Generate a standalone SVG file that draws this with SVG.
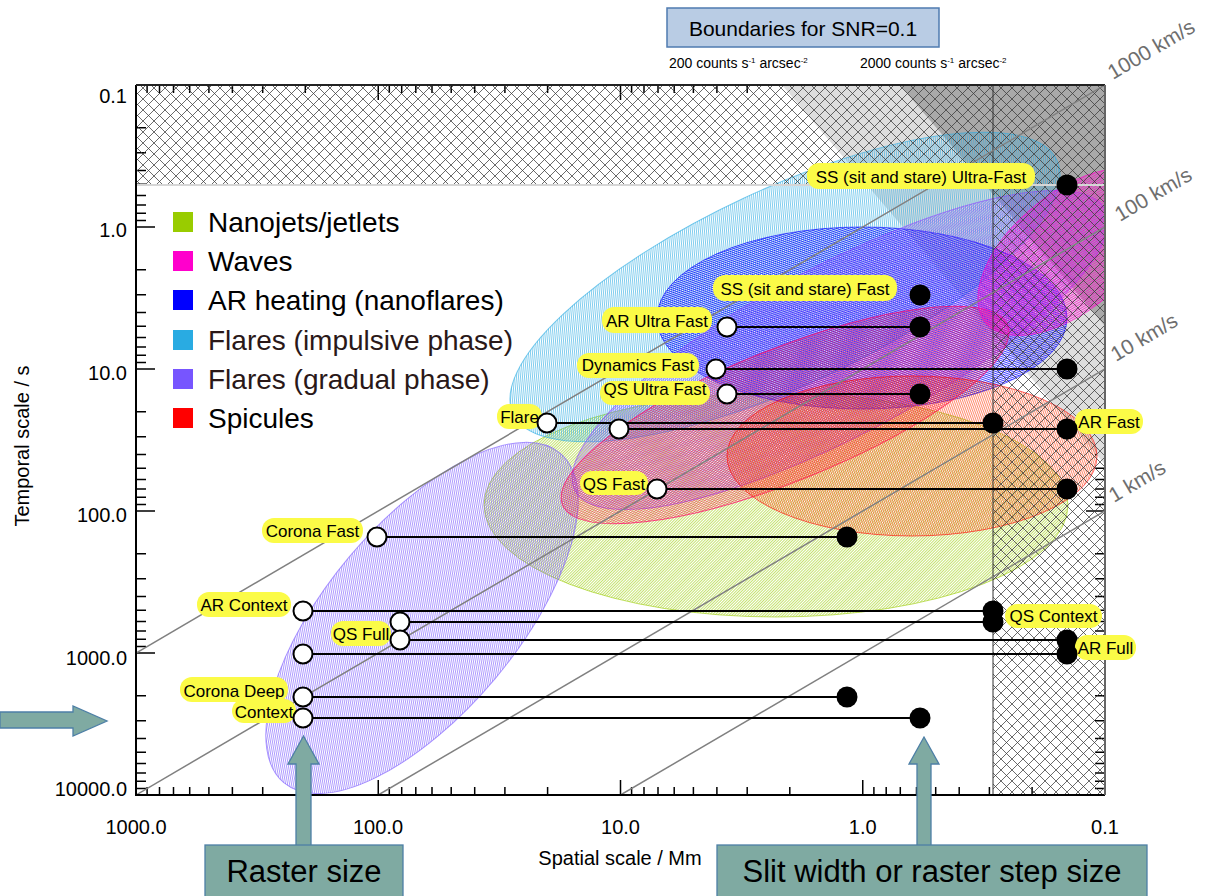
<svg xmlns="http://www.w3.org/2000/svg" width="1207" height="896" viewBox="0 0 1207 896">
<style>
text{font-family:"Liberation Sans",Arial,sans-serif;fill:#000}
.ax{font-size:20px}
.lg{font-size:28px}
.lg2{font-size:28px;fill:#2a1818}
.lab{font-size:17px;text-anchor:middle}
.spd{font-size:21px;fill:#6e6e6e}
.sub{font-size:14px}
.pill{fill:#fbfb47}
.wc{fill:#fff;stroke:#000;stroke-width:2}
.bc{fill:#000}
.dl{stroke:#000;stroke-width:2.2;fill:none}
.ell{stroke-width:1}
.arrow{fill:#7faaa2;stroke:#4d7fa6;stroke-width:1.3}
.big{font-size:31px;text-anchor:middle}
</style>
<defs>
<clipPath id="plot"><rect x="136" y="85" width="969" height="710"/></clipPath>
<pattern id="xh" width="11" height="11" patternUnits="userSpaceOnUse"><path d="M0,0L11,11M11,0L0,11" stroke="#3a3a3a" stroke-width="0.75" fill="none"/></pattern>
<pattern id="hGreen" width="2" height="2" patternUnits="userSpaceOnUse" patternTransform="rotate(45)"><rect width="0.7" height="2" fill="#99cc00" fill-opacity="0.8"/></pattern>
<pattern id="hCyan" width="2" height="2" patternUnits="userSpaceOnUse" patternTransform="rotate(20)"><rect width="0.7" height="2" fill="#29abe2" fill-opacity="0.85"/></pattern>
<pattern id="hPurple" width="2" height="2" patternUnits="userSpaceOnUse" patternTransform="rotate(60)"><rect width="0.7" height="2" fill="#7755ff" fill-opacity="0.85"/></pattern>
<pattern id="hPurple2" width="2" height="2" patternUnits="userSpaceOnUse" patternTransform="rotate(75)"><rect width="0.7" height="2" fill="#8a44ff" fill-opacity="0.8"/></pattern>
<pattern id="hBlue" width="2" height="2" patternUnits="userSpaceOnUse" patternTransform="rotate(110)"><rect width="0.8" height="2" fill="#0000ff" fill-opacity="0.95"/></pattern>
<pattern id="hRed" width="2" height="2" patternUnits="userSpaceOnUse" patternTransform="rotate(135)"><rect width="0.7" height="2" fill="#ff0040" fill-opacity="0.75"/></pattern>
<pattern id="hRed2" width="2" height="2" patternUnits="userSpaceOnUse" patternTransform="rotate(160)"><rect width="0.7" height="2" fill="#ff3000" fill-opacity="0.8"/></pattern>
<pattern id="hMag" width="2" height="2" patternUnits="userSpaceOnUse" patternTransform="rotate(100)"><rect width="0.8" height="2" fill="#ff00cc" fill-opacity="0.95"/></pattern>
</defs>
<rect width="1207" height="896" fill="#fff"/>

<g id="ticks" stroke="#000" stroke-width="1.5" fill="none">
<path d="M136 227h19M136 369h19M136 511h19M136 653h19M136 127.7h10M136 152.8h10M136 170.5h10M136 184.3h10M136 195.5h10M136 205h10M136 213.2h10M136 220.5h10M136 269.7h10M136 294.8h10M136 312.5h10M136 326.3h10M136 337.5h10M136 347h10M136 355.2h10M136 362.5h10M136 411.7h10M136 436.8h10M136 454.5h10M136 468.3h10M136 479.5h10M136 489h10M136 497.2h10M136 504.5h10M136 553.7h10M136 578.8h10M136 596.5h10M136 610.3h10M136 621.5h10M136 631h10M136 639.2h10M136 646.5h10M136 695.7h10M136 720.8h10M136 738.5h10M136 752.3h10M136 763.5h10M136 773h10M136 781.2h10M136 788.5h10"/>
<path d="M1105 227h-19M1105 369h-19M1105 511h-19M1105 653h-19M1105 127.7h-10M1105 152.8h-10M1105 170.5h-10M1105 184.3h-10M1105 195.5h-10M1105 205h-10M1105 213.2h-10M1105 220.5h-10M1105 269.7h-10M1105 294.8h-10M1105 312.5h-10M1105 326.3h-10M1105 337.5h-10M1105 347h-10M1105 355.2h-10M1105 362.5h-10M1105 411.7h-10M1105 436.8h-10M1105 454.5h-10M1105 468.3h-10M1105 479.5h-10M1105 489h-10M1105 497.2h-10M1105 504.5h-10M1105 553.7h-10M1105 578.8h-10M1105 596.5h-10M1105 610.3h-10M1105 621.5h-10M1105 631h-10M1105 639.2h-10M1105 646.5h-10M1105 695.7h-10M1105 720.8h-10M1105 738.5h-10M1105 752.3h-10M1105 763.5h-10M1105 773h-10M1105 781.2h-10M1105 788.5h-10"/>
<path d="M378.25 795v-15M620.5 795v-15M862.75 795v-15M147.1 795v-8M159.5 795v-8M173.5 795v-8M189.7 795v-8M208.9 795v-8M232.4 795v-8M262.7 795v-8M305.3 795v-8M389.3 795v-8M401.7 795v-8M415.8 795v-8M432 795v-8M451.2 795v-8M474.7 795v-8M504.9 795v-8M547.6 795v-8M631.6 795v-8M644 795v-8M658 795v-8M674.2 795v-8M693.4 795v-8M716.9 795v-8M747.2 795v-8M789.8 795v-8M873.9 795v-8M886.2 795v-8M900.3 795v-8M916.5 795v-8M935.7 795v-8M959.2 795v-8M989.4 795v-8M1032.1 795v-8"/>
<path d="M378.25 85v15M620.5 85v15M862.75 85v15M147.1 85v8M159.5 85v8M173.5 85v8M189.7 85v8M208.9 85v8M232.4 85v8M262.7 85v8M305.3 85v8M389.3 85v8M401.7 85v8M415.8 85v8M432 85v8M451.2 85v8M474.7 85v8M504.9 85v8M547.6 85v8M631.6 85v8M644 85v8M658 85v8M674.2 85v8M693.4 85v8M716.9 85v8M747.2 85v8M789.8 85v8M873.9 85v8M886.2 85v8M900.3 85v8M916.5 85v8M935.7 85v8M959.2 85v8M989.4 85v8M1032.1 85v8"/>
</g>

<g id="snr-boundaries" clip-path="url(#plot)">
<polygon points="782,85 1105,85 1105,464.5" fill="#dedede"/>
<polygon points="900,85 1105,85 1105,326" fill="#a9a9a9"/>
</g>

<g id="science-regions" clip-path="url(#plot)">
<ellipse id="nanojets" class="ell" cx="776" cy="505" rx="292" ry="112" fill="url(#hGreen)" stroke="#99cc00" stroke-opacity="0.6"/>
<ellipse id="flares-impulsive" class="ell" cx="785" cy="287" rx="300" ry="98" transform="rotate(-25 785 287)" fill="url(#hCyan)" stroke="#29abe2" stroke-opacity="0.6"/>
<ellipse id="flares-gradual-1" class="ell" cx="422" cy="618" rx="215" ry="95" transform="rotate(-50 422 618)" fill="url(#hPurple)" stroke="#7755ff" stroke-opacity="0.6"/>
<ellipse id="ar-heating" class="ell" cx="862" cy="318" rx="205" ry="91" fill="url(#hBlue)" stroke="#0000ff" stroke-opacity="0.6"/>
<ellipse id="flares-gradual-2" class="ell" cx="840" cy="350" rx="300" ry="85" transform="rotate(-28 840 350)" fill="url(#hPurple2)" stroke="#8a44ff" stroke-opacity="0.6"/>
<ellipse id="spicules-1" class="ell" cx="785" cy="415" rx="240" ry="66" transform="rotate(-22 785 415)" fill="url(#hRed)" stroke="#ff0066" stroke-opacity="0.7"/>
<ellipse id="spicules-2" class="ell" cx="912" cy="456" rx="185" ry="80" fill="url(#hRed2)" stroke="#ff0000" stroke-opacity="0.6"/>
<ellipse id="waves" class="ell" cx="1070" cy="252" rx="110" ry="58" transform="rotate(-40 1070 252)" fill="url(#hMag)" stroke="#ff00cc" stroke-opacity="0.6"/>
</g>

<g id="excluded-hatch">
<rect x="136" y="85" width="969" height="100" fill="url(#xh)"/>
<rect x="993" y="185" width="112" height="610" fill="url(#xh)"/>
<line x1="136" y1="185" x2="1105" y2="185" stroke="#d6d6d6" stroke-width="2"/>
<line x1="993" y1="85" x2="993" y2="795" stroke="#333" stroke-width="1"/>
</g>

<g id="speed-lines" clip-path="url(#plot)" stroke="#808080" stroke-width="1.5">
<line x1="136" y1="653" x2="1105" y2="85"/>
<line x1="136" y1="795" x2="1105" y2="227"/>
<line x1="378.25" y1="795" x2="1105" y2="369"/>
<line x1="620.5" y1="795" x2="1105" y2="511"/>
</g>
<g id="speed-labels">
<text class="spd" x="1113" y="80" font-size="20" transform="rotate(-30.4 1113 80)">1000 km/s</text>
<text class="spd" x="1120" y="222" transform="rotate(-30.4 1120 222)">100 km/s</text>
<text class="spd" x="1116" y="362" transform="rotate(-30.4 1116 362)">10 km/s</text>
<text class="spd" x="1114" y="503" transform="rotate(-30.4 1114 503)">1 km/s</text>
</g>

<g id="frame" fill="none">
<path d="M136 85V795H1105" stroke="#000" stroke-width="2"/>
<path d="M136 85H1105" stroke="#222" stroke-width="2"/>
<path d="M1105 85V795" stroke="#666" stroke-width="2"/>
</g>

<g id="axis-labels" class="ax">
<text x="127" y="103" text-anchor="end">0.1</text>
<text x="127" y="237" text-anchor="end">1.0</text>
<text x="127" y="380" text-anchor="end">10.0</text>
<text x="127" y="522" text-anchor="end">100.0</text>
<text x="127" y="665" text-anchor="end">1000.0</text>
<text x="127" y="796" text-anchor="end">10000.0</text>
<text x="136" y="834" text-anchor="middle">1000.0</text>
<text x="378" y="834" text-anchor="middle">100.0</text>
<text x="620.5" y="834" text-anchor="middle">10.0</text>
<text x="862.75" y="834" text-anchor="middle">1.0</text>
<text x="1105" y="834" text-anchor="middle">0.1</text>
<text x="620" y="865" text-anchor="middle">Spatial scale / Mm</text>
<text x="29" y="446" text-anchor="middle" transform="rotate(-90 29 446)">Temporal scale / s</text>
</g>

<g id="legend">
<rect x="173" y="212" width="20" height="20" fill="#99cc00"/>
<text class="lg" x="208" y="232">Nanojets/jetlets</text>
<rect x="173" y="251" width="20" height="20" fill="#ff00cc"/>
<text class="lg" x="208" y="271">Waves</text>
<rect x="173" y="290" width="20" height="20" fill="#0000ff"/>
<text class="lg" x="208" y="310">AR heating (nanoflares)</text>
<rect x="173" y="330" width="20" height="20" fill="#29abe2"/>
<text class="lg2" x="208" y="350">Flares (impulsive phase)</text>
<rect x="173" y="369" width="20" height="20" fill="#7755ff"/>
<text class="lg2" x="208" y="389">Flares (gradual phase)</text>
<rect x="173" y="408" width="20" height="20" fill="#ff0000"/>
<text class="lg" x="208" y="428">Spicules</text>
</g>

<g id="snr-title">
<rect x="667" y="8" width="272" height="39" fill="#b9cce4" stroke="#4f7bb0" stroke-width="1.5"/>
<text x="803" y="36" font-size="21" text-anchor="middle">Boundaries for SNR=0.1</text>
<text class="sub" x="669" y="68">200 counts s<tspan dy="-5" font-size="8">-1</tspan><tspan dy="5"> arcsec</tspan><tspan dy="-5" font-size="8">-2</tspan></text>
<text class="sub" x="860" y="68">2000 counts s<tspan dy="-5" font-size="8">-1</tspan><tspan dy="5"> arcsec</tspan><tspan dy="-5" font-size="8">-2</tspan></text>
</g>

<g id="connectors" class="dl">
<line x1="727" y1="327" x2="920" y2="327"/>
<line x1="716" y1="369" x2="1067" y2="369"/>
<line x1="727" y1="394" x2="920" y2="394"/>
<line x1="547" y1="423" x2="993" y2="423"/>
<line x1="619" y1="429" x2="1067" y2="429"/>
<line x1="657" y1="489" x2="1067" y2="489"/>
<line x1="377" y1="537" x2="847" y2="537"/>
<line x1="303" y1="611" x2="993" y2="611"/>
<line x1="400" y1="622" x2="993" y2="622"/>
<line x1="400" y1="640" x2="1067" y2="640"/>
<line x1="303" y1="654" x2="1067" y2="654"/>
<line x1="303" y1="697" x2="847" y2="697"/>
<line x1="303" y1="718" x2="920" y2="718"/>
</g>

<g id="ss-ultra-fast"><rect class="pill" x="807" y="163" width="228" height="26" rx="12"/><text class="lab" x="921" y="183">SS (sit and stare) Ultra-Fast</text><circle class="bc" cx="1067" cy="185" r="10.5"/></g>
<g id="ss-fast"><rect class="pill" x="713" y="275" width="184" height="26" rx="12"/><text class="lab" x="805" y="295">SS (sit and stare) Fast</text><circle class="bc" cx="920" cy="295" r="10.5"/></g>
<g id="ar-ultra-fast"><rect class="pill" x="602" y="307" width="110" height="26" rx="12"/><text class="lab" x="657" y="327">AR Ultra Fast</text><circle class="wc" cx="727" cy="327" r="9.5"/><circle class="bc" cx="920" cy="327" r="10.5"/></g>
<g id="dynamics-fast"><rect class="pill" x="577" y="353" width="122" height="25" rx="12"/><text class="lab" x="638" y="371">Dynamics Fast</text><circle class="wc" cx="716" cy="369" r="9.5"/><circle class="bc" cx="1067" cy="369" r="10.5"/></g>
<g id="qs-ultra-fast"><rect class="pill" x="600" y="381" width="110" height="24" rx="12"/><text class="lab" x="655" y="395">QS Ultra Fast</text><circle class="wc" cx="727" cy="394" r="9.5"/><circle class="bc" cx="920" cy="394" r="10.5"/></g>
<g id="flare"><rect class="pill" x="497" y="404" width="45" height="25" rx="12"/><text class="lab" x="519.5" y="423">Flare</text><circle class="wc" cx="547" cy="423" r="9.5"/><circle class="bc" cx="993" cy="423" r="10.5"/></g>
<g id="ar-fast"><rect class="pill" x="1075" y="409" width="68" height="25" rx="12"/><text class="lab" x="1109" y="428">AR Fast</text><circle class="wc" cx="619" cy="429" r="9.5"/><circle class="bc" cx="1067" cy="429" r="10.5"/></g>
<g id="qs-fast"><rect class="pill" x="580" y="471" width="68" height="24" rx="12"/><text class="lab" x="614" y="490">QS Fast</text><circle class="wc" cx="657" cy="489" r="9.5"/><circle class="bc" cx="1067" cy="489" r="10.5"/></g>
<g id="corona-fast"><rect class="pill" x="262" y="518" width="101" height="25" rx="12"/><text class="lab" x="312.5" y="537">Corona Fast</text><circle class="wc" cx="377" cy="537" r="9.5"/><circle class="bc" cx="847" cy="537" r="10.5"/></g>
<g id="ar-context"><rect class="pill" x="197" y="592" width="94" height="25" rx="12"/><text class="lab" x="244" y="611">AR Context</text><circle class="wc" cx="303" cy="611" r="9.5"/><circle class="bc" cx="993" cy="611" r="10.5"/></g>
<g id="qs-context"><rect class="pill" x="1005" y="604" width="97" height="24" rx="12"/><text class="lab" x="1053.5" y="622">QS Context</text><circle class="wc" cx="400" cy="622" r="9.5"/><circle class="bc" cx="993" cy="622" r="10.5"/></g>
<g id="qs-full"><rect class="pill" x="331" y="621" width="60" height="25" rx="12"/><text class="lab" x="361" y="640">QS Full</text><circle class="wc" cx="400" cy="640" r="9.5"/><circle class="bc" cx="1067" cy="640" r="10.5"/></g>
<g id="ar-full"><rect class="pill" x="1075" y="635" width="61" height="25" rx="12"/><text class="lab" x="1105.5" y="654">AR Full</text><circle class="wc" cx="303" cy="654" r="9.5"/><circle class="bc" cx="1067" cy="654" r="10.5"/></g>
<g id="corona-deep"><rect class="pill" x="180" y="677" width="108" height="25" rx="12"/><text class="lab" x="234" y="697">Corona Deep</text><circle class="wc" cx="303" cy="697" r="9.5"/><circle class="bc" cx="847" cy="697" r="10.5"/></g>
<g id="context"><rect class="pill" x="232" y="699" width="64" height="24" rx="12"/><text class="lab" x="264" y="718">Context</text><circle class="wc" cx="303" cy="718" r="9.5"/><circle class="bc" cx="920" cy="718" r="10.5"/></g>

<g id="left-arrow"><polygon class="arrow" points="0,712 73,712 73,706 107,721 73,736 73,728 0,728"/></g>
<g id="raster-size">
<polygon class="arrow" points="296,846 296,764 288,764 303.5,736 319,764 311,764 311,846"/>
<rect class="arrow" x="205" y="845" width="198" height="60"/>
<text class="big" x="304" y="882">Raster size</text>
</g>
<g id="slit-width">
<polygon class="arrow" points="917,846 917,764 909,764 924,737 939,764 931,764 931,846"/>
<rect class="arrow" x="717" y="845" width="430" height="60"/>
<text class="big" x="932" y="882">Slit width or raster step size</text>
</g>
</svg>
